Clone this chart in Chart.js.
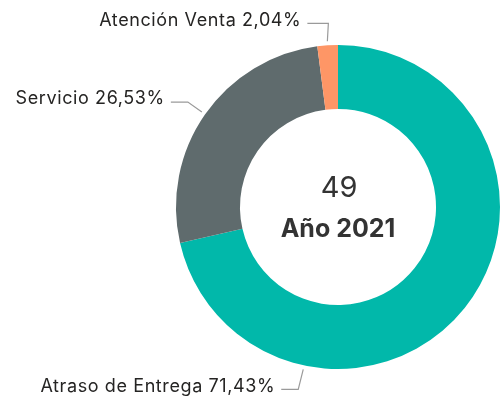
<!DOCTYPE html>
<html>
<head>
<meta charset="utf-8">
<script src="https://cdn.jsdelivr.net/npm/chart.js@4/dist/chart.umd.min.js"></script>
<style>
html,body{margin:0;padding:0;background:#fff;}
#wrap{position:relative;width:500px;height:401px;}
</style>
</head>
<body>
<div id="wrap"><canvas id="c" width="500" height="401"></canvas></div>
<script>
// Data
const categories = ["Atraso de Entrega", "Servicio", "Atención Venta"];
const counts = [35, 13, 1];
const percentLabels = ["71,43%", "26,53%", "2,04%"];
const totalLabel = "49";
const yearLabel = "Año 2021";

// Styles
const colors = ["#01B8AA", "#5F6B6D", "#FE9666"];
const labelFont = "18px Inter";
const textColor = "#252423";
// label leader layout: anchor position along slice (0..1), elbow offset, horizontal length
const leaderStyle = [
  {frac: 0.747, dx: -5, dy: 20, h: 17},
  {frac: 0.5, dx: -14, dy: -10, h: 17},
  {frac: 0.5, dx: 1, dy: -18, h: 21}
];

const labelPlugin = {
  id: 'labels',
  afterDatasetsDraw(chart) {
    const ctx = chart.ctx;
    const meta = chart.getDatasetMeta(0);
    ctx.save();
    meta.data.forEach((arc, i) => {
      const st = leaderStyle[i];
      const a = arc.startAngle + (arc.endAngle - arc.startAngle) * st.frac;
      const r = arc.outerRadius + 4;
      const x0 = arc.x + r * Math.cos(a);
      const y0 = arc.y + r * Math.sin(a);
      const x1 = x0 + st.dx, y1 = y0 + st.dy;
      const x2 = x1 - st.h;
      ctx.strokeStyle = "#9a9a9a";
      ctx.lineWidth = 1.2;
      ctx.beginPath();
      ctx.moveTo(x0, y0); ctx.lineTo(x1, y1); ctx.lineTo(x2, y1);
      ctx.stroke();
      ctx.fillStyle = textColor;
      ctx.font = labelFont;
      ctx.letterSpacing = "0.6px";
      ctx.textAlign = "right";
      ctx.textBaseline = "middle";
      ctx.fillText(categories[i] + " " + percentLabels[i], x2 - 6, y1 - 3);
    });
    // center text
    const arc0 = meta.data[0];
    ctx.letterSpacing = "0px";
    ctx.textAlign = "center";
    ctx.textBaseline = "middle";
    ctx.fillStyle = "#333333";
    ctx.font = "29px Inter";
    ctx.fillText(totalLabel, arc0.x + 1, arc0.y - 19);
    ctx.font = "bold 25px Inter";
    ctx.fillText(yearLabel, arc0.x, arc0.y + 22);
    ctx.restore();
  }
};

new Chart(document.getElementById('c'), {
  type: 'doughnut',
  data: {
    labels: categories,
    datasets: [{
      data: counts,
      backgroundColor: colors,
      borderWidth: 0
    }]
  },
  options: {
    responsive: false,
    animation: false,
    cutout: '60.5%',
    layout: {padding: {left: 176, right: 0, top: 45, bottom: 32}},
    plugins: {legend: {display: false}, tooltip: {enabled: false}}
  },
  plugins: [labelPlugin]
});
</script>
</body>
</html>
